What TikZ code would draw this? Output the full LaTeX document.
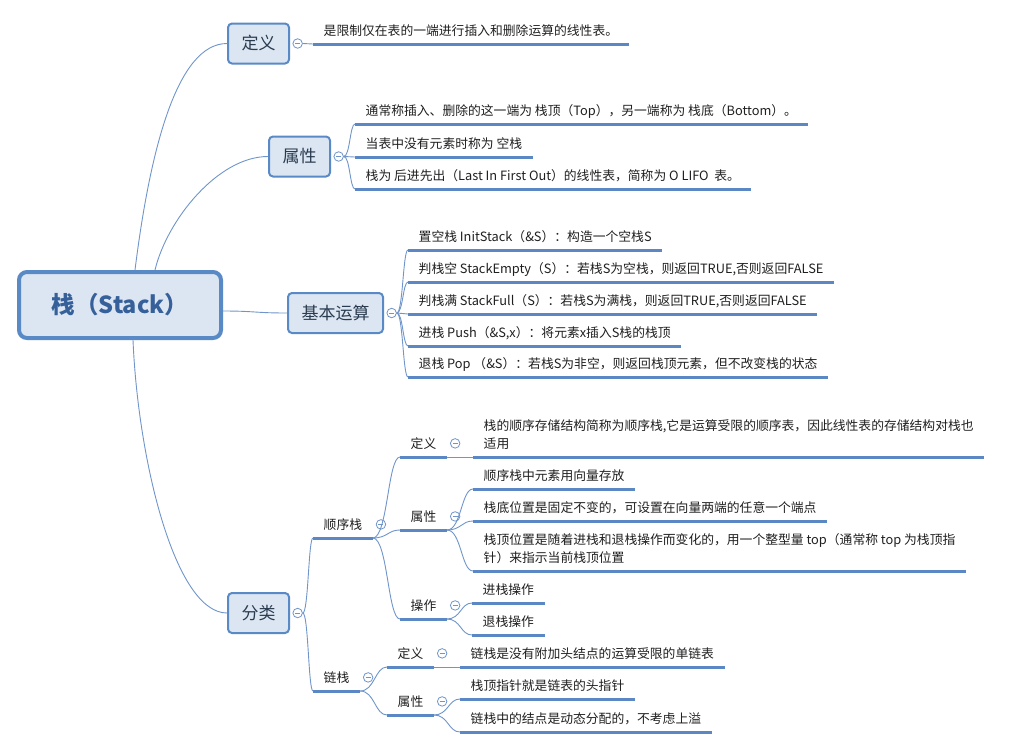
\documentclass[tikz,border=0pt]{standalone}
\usepackage{fontspec}
\setmainfont{Noto Sans CJK SC}
\usetikzlibrary{positioning,calc}

\definecolor{boxfill}{HTML}{DCE6F2}
\definecolor{boxline}{HTML}{5A8AC6}
\definecolor{wirec}{HTML}{6F95CA}
\definecolor{ulinec}{HTML}{5B87C4}
\definecolor{roottext}{HTML}{36609A}
\definecolor{boxtext}{HTML}{2A3B4F}

\tikzset{
  rootbox/.style={draw=boxline, fill=boxfill, line width=4pt, rounded corners=8pt,
    minimum width=202pt, minimum height=66pt, text=roottext,
    font=\fontsize{23.5}{28}\selectfont\bfseries},
  topbox/.style={draw=boxline, fill=boxfill, line width=2pt, rounded corners=4pt,
    minimum height=40pt, inner xsep=13.5pt, text=boxtext,
    font=\fontsize{17}{20}\selectfont},
  fold/.style={circle, draw=wirec, fill=white, line width=0.8pt, inner sep=0pt,
    minimum size=9.5pt, text=wirec},
  topic/.style={anchor=south west, inner xsep=10.5pt, inner ysep=5pt, text depth=3pt,
    align=left, text=black!88, font=\fontsize{12.8}{18}\selectfont},
  wire/.style={draw=wirec, line width=0.9pt},
  uline/.style={draw=ulinec, line width=3pt},
  branch/.style={to path={.. controls ($(\tikztostart)!0.55!(\tikztotarget |- \tikztostart)$)
    and ($(\tikztotarget)!0.45!(\tikztostart |- \tikztotarget)$) .. (\tikztotarget)}}
}

\begin{document}
\begin{tikzpicture}[x=1pt,y=-1pt]
  \useasboundingbox (0,0) rectangle (1010,748);

  % main topics
  \node[rootbox] (stack) at (120,305) {栈（Stack）};
  \node[topbox] (d) at (258.5,43.5) {定义};
  \node[topbox] (a) at (299.5,156.5) {属性};
  \node[topbox] (o) at (335.5,313) {基本运算};
  \node[topbox] (k) at (258.5,613) {分类};
  \foreach \n in {d,a,o,k}
    \node[fold, right=2.5pt of \n] (\n_f) {\rule{5pt}{0.7pt}};

  % leaves of the first three
  \node[topic] (d_1) at (313,44) {是限制仅在表的一端进行插入和删除运算的线性表。};
  \node[topic] (a_1) at (355,124) {通常称插入、删除的这一端为 栈顶（Top），另一端称为 栈底（Bottom）。};
  \node[topic] (a_2) at (355,157) {当表中没有元素时称为 空栈};
  \node[topic] (a_3) at (355,189) {栈为 后进先出（Last In First Out）的线性表，简称为 O LIFO~ 表。};
  \node[topic] (o_1) at (408,250) {置空栈 InitStack（\&S）：构造一个空栈S};
  \node[topic] (o_2) at (408,282) {判栈空 StackEmpty（S）：若栈S为空栈，则返回TRUE,否则返回FALSE};
  \node[topic] (o_3) at (408,314) {判栈满 StackFull（S）：若栈S为满栈，则返回TRUE,否则返回FALSE};
  \node[topic] (o_4) at (408,346) {进栈 Push（\&S,x）：将元素x插入S栈的栈顶};
  \node[topic] (o_5) at (408,377) {退栈 Pop （\&S）：若栈S为非空，则返回栈顶元素，但不改变栈的状态};

  % subtopics of 分类
  \node[topic] (s) at (313,538) {顺序栈};
  \node[topic] (l) at (313,691) {链栈};
  \node[topic] (s_d) at (400,457) {定义};
  \node[topic] (s_a) at (400,530) {属性};
  \node[topic] (s_o) at (400,619) {操作};
  \node[topic] (l_d) at (387,667) {定义};
  \node[topic] (l_a) at (387,715) {属性};
  \foreach \n in {s,l,s_d,s_a,s_o,l_d,l_a}
    \node[fold, right=3pt of \n, yshift=1.5pt] (\n_f) {\rule{5pt}{0.7pt}};

  \node[topic] (s_d1) at (473,457) {栈的顺序存储结构简称为顺序栈,它是运算受限的顺序表，因此线性表的存储结构对栈也\\适用};
  \node[topic] (s_a1) at (473,489) {顺序栈中元素用向量存放};
  \node[topic] (s_a2) at (473,521) {栈底位置是固定不变的，可设置在向量两端的任意一个端点};
  \node[topic] (s_a3) at (473,571) {栈顶位置是随着进栈和退栈操作而变化的，用一个整型量 top（通常称 top 为栈顶指\\针）来指示当前栈顶位置};
  \node[topic] (s_o1) at (472,603) {进栈操作};
  \node[topic] (s_o2) at (472,635) {退栈操作};
  \node[topic] (l_d1) at (460,667) {链栈是没有附加头结点的运算受限的单链表};
  \node[topic] (l_a1) at (460,699) {栈顶指针就是链表的头指针};
  \node[topic] (l_a2) at (460,732) {链栈中的结点是动态分配的，不考虑上溢};

  % underlines
  \foreach \n in {d_1,a_1,a_2,a_3,o_1,o_2,o_3,o_4,o_5,s,l,s_d,s_a,s_o,l_d,l_a,
                  s_d1,s_a1,s_a2,s_a3,s_o1,s_o2,l_d1,l_a1,l_a2}
    \draw[uline] (\n.south west) -- (\n.south east);

  % root edges
  \draw[wire] ([xshift=15pt]stack.north) .. controls +(15,-120) and +(-50,0) .. (d.west);
  \draw[wire] ([xshift=35pt]stack.north) .. controls +(12,-50) and +(-50,0) .. (a.west);
  \draw[wire] ([yshift=-6pt]stack.east) .. controls +(32,0) and +(-32,0) .. (o.west);
  \draw[wire] ([xshift=13pt]stack.south) .. controls +(5,120) and +(-52,0) .. (k.west);

  % branch edges
  \draw[wire] (d_f.east) -- (d_1.south west);
  \foreach \n in {a_1,a_2,a_3}
    \draw[wire] (a_f.east) to[branch] (\n.south west);
  \foreach \n in {o_1,o_2,o_3,o_4,o_5}
    \draw[wire] (o_f.east) to[branch] (\n.south west);
  \foreach \n in {s,l}
    \draw[wire] (k_f.east) to[branch] (\n.south west);
  \foreach \n in {s_d,s_a,s_o}
    \draw[wire] (s.south east) to[branch] (\n.south west);
  \foreach \n in {l_d,l_a}
    \draw[wire] (l.south east) to[branch] (\n.south west);
  \draw[wire] (s_d.south east) -- (s_d1.south west);
  \foreach \n in {s_a1,s_a2,s_a3}
    \draw[wire] (s_a.south east) to[branch] (\n.south west);
  \foreach \n in {s_o1,s_o2}
    \draw[wire] (s_o.south east) to[branch] (\n.south west);
  \draw[wire] (l_d.south east) -- (l_d1.south west);
  \foreach \n in {l_a1,l_a2}
    \draw[wire] (l_a.south east) to[branch] (\n.south west);
\end{tikzpicture}
\end{document}
